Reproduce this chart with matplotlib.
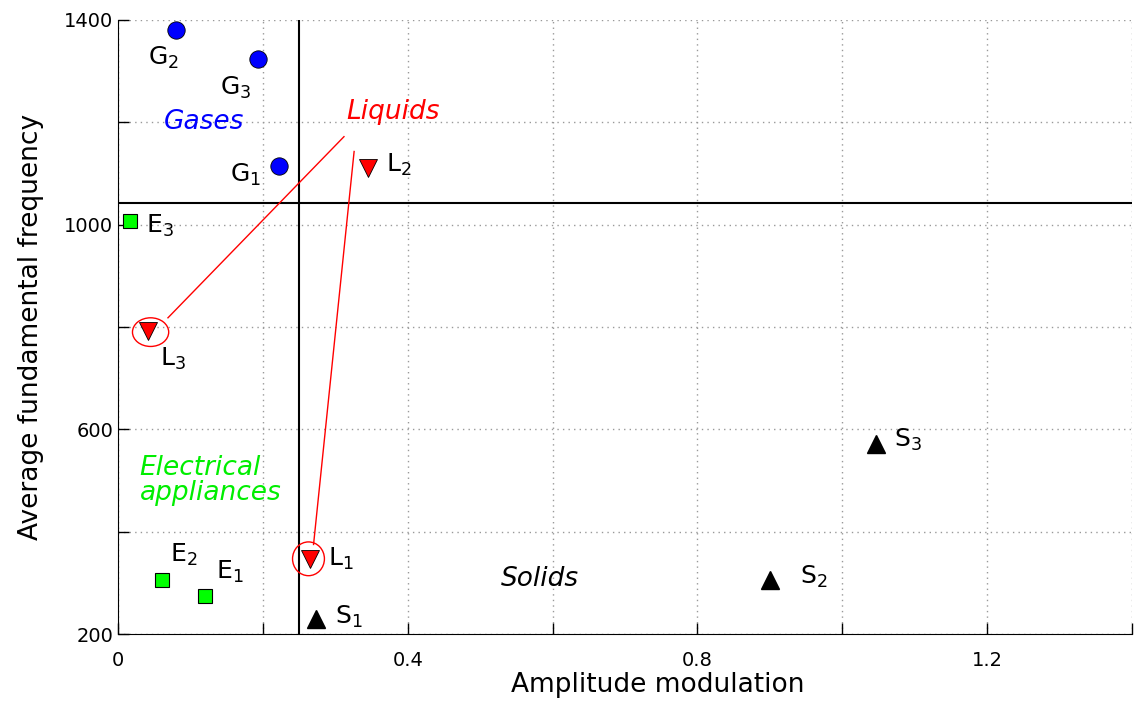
import numpy as np
import matplotlib.pyplot as plt
from matplotlib.patches import Ellipse
from matplotlib.ticker import MultipleLocator

# data
gas_x = [0.222, 0.080, 0.193]
gas_y = [1115, 1380, 1324]
liq_x = [0.265, 0.345, 0.041]
liq_y = [347, 1111, 792]
ele_x = [0.120, 0.061, 0.017]
ele_y = [274, 306, 1007]
sol_x = [0.273, 0.900, 1.047]
sol_y = [229, 306, 571]

idx = ['1', '2', '3']

x_split = 0.25
y_split = 1043

fig = plt.figure(figsize=(11.4, 7.04), dpi=100)
ax = fig.add_axes([0.1035, 0.0994, 0.8895, 0.8722])

ax.axvline(x_split, color='k', lw=1.5, zorder=2)
ax.axhline(y_split, color='k', lw=1.5, zorder=2)

ax.plot(gas_x, gas_y, 'o', ms=12.5, mfc='#0000ff', mec='k', mew=0.6, zorder=4)
ax.plot(liq_x, liq_y, 'v', ms=13, mfc='#ff0000', mec='k', mew=0.6, zorder=4)
ax.plot(ele_x, ele_y, 's', ms=9.5, mfc='#00ff00', mec='k', mew=0.8, zorder=4)
ax.plot(sol_x, sol_y, '^', ms=13, mfc='k', mec='k', zorder=4)

def sub(c, i):
    return c + r'$_\mathregular{' + i + '}$'

fs = 18
# point labels (offsets in data units)
g_off = [(-0.068, -18), (-0.038, -55), (-0.052, -57)]
for (dx, dy), x, y, i in zip(g_off, gas_x, gas_y, idx):
    ax.text(x + dx, y + dy, sub('G', i), fontsize=fs, va='center', ha='left')

l_off = [(0.025, 0), (0.025, 5), (0.017, -55)]
for (dx, dy), x, y, i in zip(l_off, liq_x, liq_y, idx):
    ax.text(x + dx, y + dy, sub('L', i), fontsize=fs, va='center', ha='left')

e_off = [(0.016, 47), (0.011, 48), (0.022, -10)]
for (dx, dy), x, y, i in zip(e_off, ele_x, ele_y, idx):
    ax.text(x + dx, y + dy, sub('E', i), fontsize=fs, va='center', ha='left')

s_off = [(0.026, 5), (0.042, 5), (0.025, 8)]
for (dx, dy), x, y, i in zip(s_off, sol_x, sol_y, idx):
    ax.text(x + dx, y + dy, sub('S', i), fontsize=fs, va='center', ha='left')

# category names
cfs = 19
ax.text(0.119, 1200, 'Gases', color='#0000ff', style='italic', fontsize=cfs,
        ha='center', va='center')
ax.text(0.315, 1220, 'Liquids', color='#ff0000', style='italic', fontsize=cfs,
        ha='left', va='center')
ax.text(0.030, 501, 'Electrical\nappliances', color='#00ee00', style='italic',
        fontsize=cfs, ha='left', va='center', linespacing=0.95)
ax.text(0.582, 308, 'Solids', color='k', style='italic', fontsize=cfs,
        ha='center', va='center')

# pointers from "Liquids" to the circled points
ax.plot([0.312, 0.069], [1172, 818], color='#ff0000', lw=1)
ax.plot([0.326, 0.270], [1143, 375], color='#ff0000', lw=1)
ax.add_patch(Ellipse((liq_x[2] + 0.004, liq_y[2] - 2), 0.050, 56, fill=False,
                     ec='#ff0000', lw=1, zorder=5))
ax.add_patch(Ellipse((liq_x[0] - 0.002, liq_y[0]), 0.044, 66, fill=False,
                     ec='#ff0000', lw=1, zorder=5))

ax.set_xlim(0, 1.4)
ax.set_ylim(200, 1400)
ax.xaxis.set_minor_locator(MultipleLocator(0.2))
ax.yaxis.set_minor_locator(MultipleLocator(200))
ax.set_xticks([0, 0.4, 0.8, 1.2])
ax.set_xticklabels(['0', '0.4', '0.8', '1.2'])
ax.set_yticks([200, 600, 1000, 1400])
ax.tick_params(which='both', direction='in', length=8, width=1,
               top=False, right=False, labelsize=14)
ax.tick_params(axis='x', pad=12)
ax.grid(True, which='both', ls=(0, (1, 3)), color='#999999', lw=1)

for s in ['top', 'right']:
    ax.spines[s].set_visible(False)

ax.set_xlabel('Amplitude modulation', fontsize=19, labelpad=0)
ax.xaxis.set_label_coords(0.532, -0.083, transform=ax.transAxes)
ax.xaxis.label.set_va('center')
ax.set_ylabel('Average fundamental frequency', fontsize=19, labelpad=14)

plt.savefig('out.png', dpi=100)
plt.close()
